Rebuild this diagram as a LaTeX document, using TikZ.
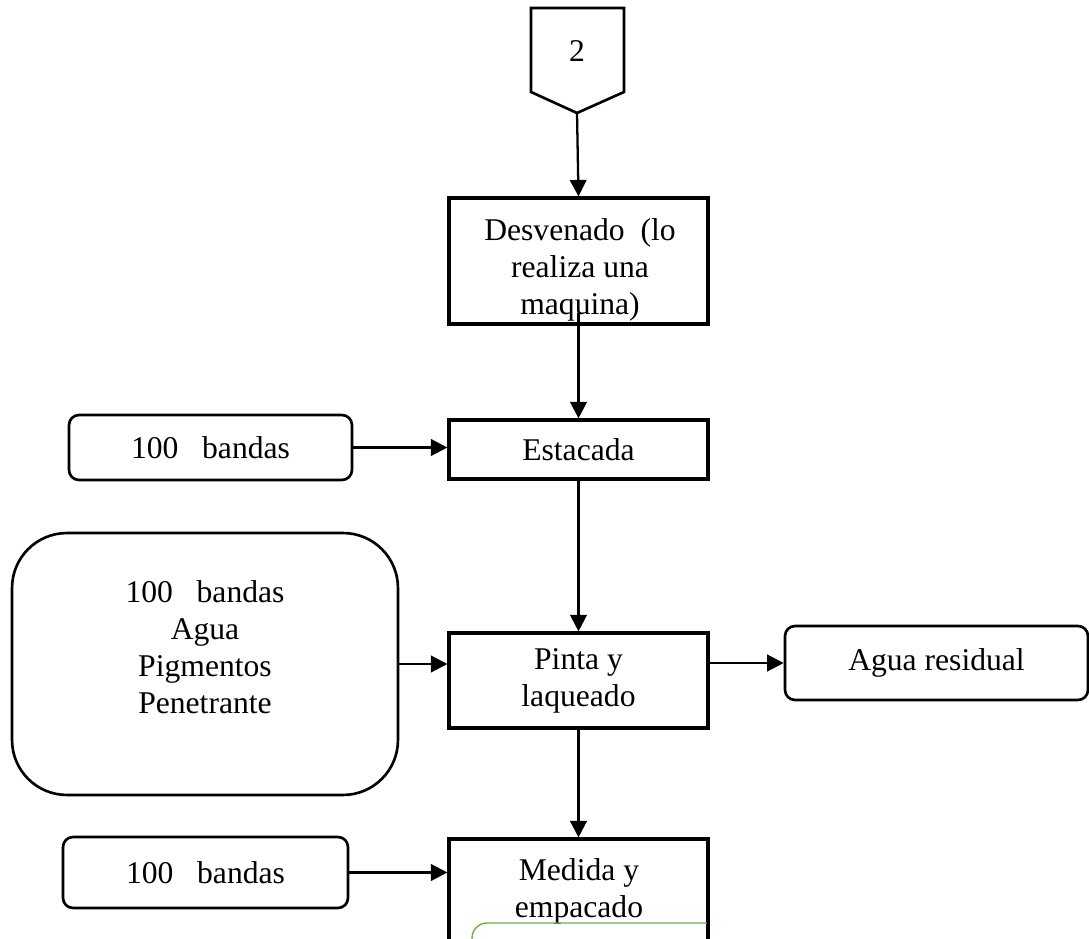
\documentclass[tikz,border=0pt]{standalone}
\usepackage{fontspec}
\setmainfont{Liberation Serif}
\usetikzlibrary{arrows.meta}

\definecolor{hojaverde}{RGB}{112,173,71}

\begin{document}
\begin{tikzpicture}[x=0.02cm, y=-0.02cm,
        every node/.style={font=\fontsize{18}{21}\selectfont, align=center},
        proc/.style={draw, line width=1.8pt, inner sep=0pt, minimum width=5.18cm},
        entra/.style={draw, line width=1.5pt, rounded corners=0.2cm, inner sep=0pt},
        flow/.style={-{Triangle[length=0.33cm, width=0.33cm]}, line width=1.3pt}]
            \useasboundingbox (0,0) rectangle (1089,939);

            % conector de pagina
            \draw[line width=1.5pt] (531,8) -- (624,8) -- (624,92) -- (577,113) coordinate (tip) -- (531,92) -- cycle;
            \node[inner sep=0pt] (num) at (577,51) {2};

            % etapas
            \node[proc, minimum height=2.52cm] (dsv) at (578.5,261) {};
            \node[inner sep=0pt] (dsvt) at (580,270) {Desvenado\ \ (lo\\realiza una\\maquina)};
            \coordinate (dsvin) at (578.5,313);
            \node[proc, minimum height=1.18cm] (est) at (578.5,449.5) {Estacada};
            \node[proc, minimum height=1.9cm] (pin) at (578.5,680.5) {Pinta y\\laqueado};
            \node[proc, minimum height=2.54cm] (med) at (578.5,902.5) {};
            \node[inner sep=0pt] (medt) at (579,891) {Medida y\\empacado};

            % entradas y salidas
            \node[entra, minimum width=5.66cm, minimum height=1.3cm] (b1) at (210.5,447.5) {100\ \ \ bandas};
            \node[entra, rounded corners=1.1cm, minimum width=7.72cm, minimum height=5.24cm] (mix) at (205,664) {};
            \node[inner sep=0pt] (mixt) at (205,647) {100\ \ \ bandas\\Agua\\Pigmentos\\Penetrante};
            \node[entra, minimum width=6.06cm, minimum height=1.48cm] (res) at (936.5,663) {Agua residual};
            \node[entra, minimum width=5.7cm, minimum height=1.42cm] (b3) at (205.5,872.5) {100\ \ \ bandas};

            \draw[flow] (tip) -- (dsv.north);
            \draw[flow] (dsvin) -- (est.north);
            \draw[flow] (est.south) -- (pin.north);
            \draw[flow] (pin.south) -- (med.north);
            \draw[flow] (b1.east) -- (b1.east -| est.west);
            \draw[flow] (mix.east) -- (mix.east -| pin.west);
            \draw[flow] (res.west -| pin.east) -- (res.west);
            \draw[flow] (b3.east) -- (b3.east -| med.west);

            %\draw[hojaverde] (472,923) rectangle (708,990);
            \draw[hojaverde, line width=0.8pt, rounded corners=0.3cm] (472,980) |- (707,923);

        \end{tikzpicture}
\end{document}
